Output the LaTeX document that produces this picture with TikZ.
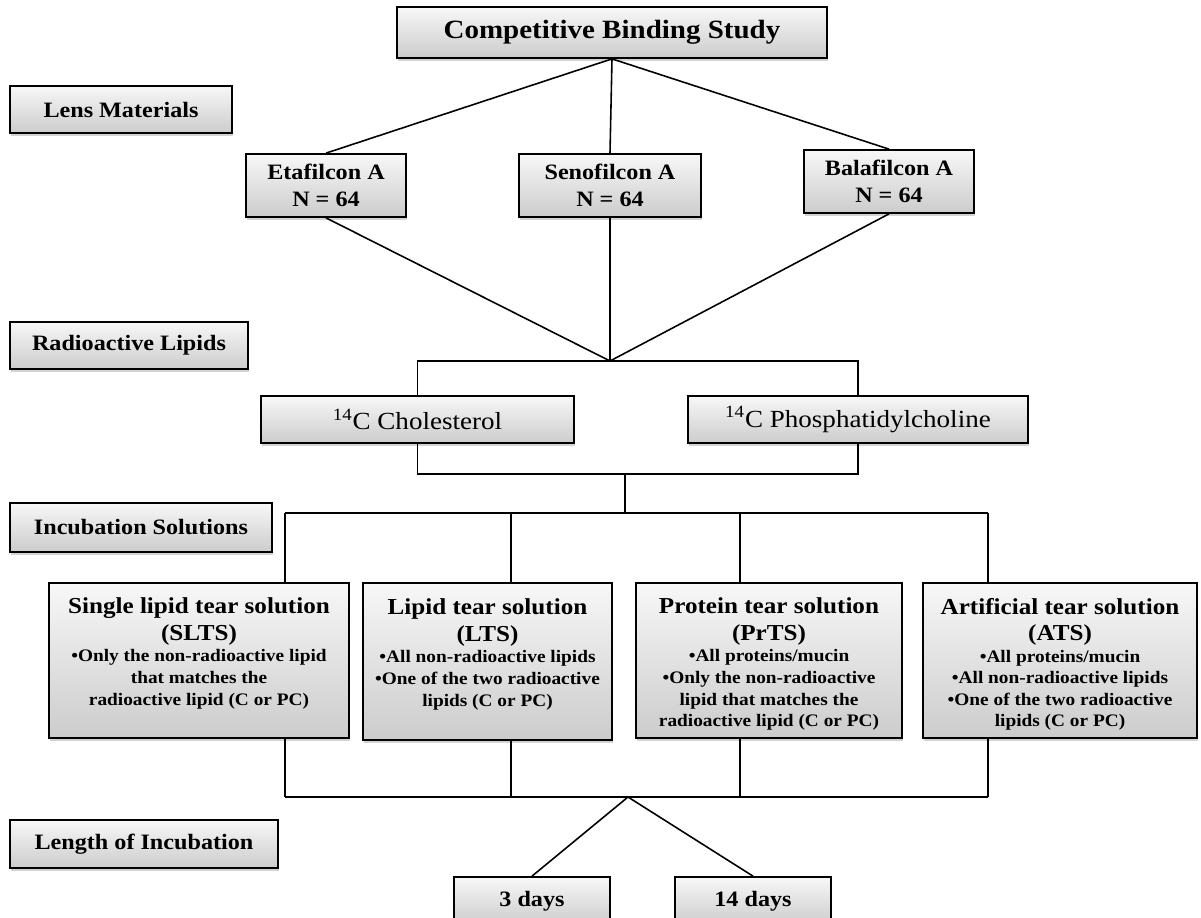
\documentclass[tikz,border=0pt]{standalone}
\usepackage{fontspec}
\setmainfont{Liberation Serif}[FakeStretch=1.1]
\usepackage{tikz}
\usetikzlibrary{positioning, shadows, calc}
\tikzset{
    greybox/.style={rectangle, draw=black, line width=1pt, top color=gray!6, bottom color=gray!40,
        drop shadow={shadow xshift=0.8pt, shadow yshift=-1.6pt, opacity=0.35}, align=center, inner sep=0pt},
    labelbox/.style={greybox, minimum height=0.94cm, font=\bfseries\fontsize{12.5}{15}\selectfont},
    itembox/.style={greybox, minimum height=1.26cm, font=\bfseries\fontsize{12.5}{15}\selectfont},
    lipidbox/.style={greybox, minimum height=0.94cm, font=\fontsize{14}{16}\selectfont},
    solbox/.style={greybox, minimum height=3.1cm, font=\bfseries},
    daybox/.style={greybox, minimum width=3.12cm, minimum height=0.96cm, font=\bfseries\fontsize{12.5}{15}\selectfont},
    link/.style={line width=0.9pt, draw=black}
}
\newcommand{\solbody}[3]{\parbox[t][2.5cm][t]{#1}{\centering{\fontsize{13}{15}\selectfont #2\par}\fontsize{10}{12.3}\selectfont #3}}

\begin{document}
\begin{tikzpicture}[x=0.02cm, y=-0.02cm]
    \useasboundingbox (0,0) rectangle (1201,917);
    \clip (0,0) rectangle (1201,917);

    % Study and lens materials
    \node[greybox, minimum width=8.6cm, minimum height=1.02cm, font=\bfseries\fontsize{15}{17}\selectfont] (study) at (612,32.5) {Competitive Binding Study};
    \node[labelbox, minimum width=4.44cm] (lens) at (121,109.5) {Lens Materials};
    \node[itembox, minimum width=3.2cm] (eta) at (326,185.5) {Etafilcon A\\N = 64};
    \node[itembox, minimum width=3.64cm] (seno) at (610,185.5) {Senofilcon A\\N = 64};
    \node[itembox, minimum width=3.4cm] (bala) at (889,181.5) {Balafilcon A\\N = 64};

    \draw[link] (study.south) -- (eta.north);
    \draw[link] (study.south) -- (seno.north);
    \draw[link] (study.south) -- (bala.north);

    % Radioactive lipids
    \node[labelbox, minimum width=4.76cm] (radio) at (129,345.5) {Radioactive Lipids};
    \node[lipidbox, minimum width=6.26cm] (chol) at (417.5,419.5) {\textsuperscript{14}C Cholesterol};
    \node[lipidbox, minimum width=6.8cm] (pc) at (858,419.5) {\textsuperscript{14}C Phosphatidylcholine};
    \coordinate (meet) at (610,361);

    \draw[link] (eta.south) -- (meet);
    \draw[link] (seno.south) -- (meet);
    \draw[link] (bala.south) -- (meet);
    \draw[link] (chol.north) |- (meet) -| (pc.north);

    % Incubation solutions
    \node[labelbox, minimum width=5.24cm, minimum height=0.98cm] (incub) at (141,527.5) {Incubation Solutions};
    \coordinate (lipidhub) at (625,474);
    \coordinate (solhub) at (625,513);
    \draw[link] (chol.south) |- (lipidhub) -| (pc.south);
    \draw[link] (lipidhub) -- (solhub);

    \node[solbox, minimum width=6cm] (slts) at (199,660.5) {\solbody{6cm}{Single lipid tear solution\\(SLTS)}{\textbullet Only the non-radioactive lipid\\that matches the\\radioactive lipid (C or PC)}};
    \node[solbox, minimum width=4.98cm, minimum height=3.14cm] (lts) at (487.5,661.5) {\solbody{4.98cm}{Lipid tear solution\\(LTS)}{\textbullet All non-radioactive lipids\\\textbullet One of the two radioactive\\lipids (C or PC)}};
    \node[solbox, minimum width=5.32cm] (prts) at (769,660.5) {\solbody{5.32cm}{Protein tear solution\\(PrTS)}{\textbullet All proteins/mucin\\\textbullet Only the non-radioactive\\lipid that matches the\\radioactive lipid (C or PC)}};
    \node[solbox, minimum width=5.48cm] (ats) at (1060,660.5) {\solbody{5.48cm}{Artificial tear solution\\(ATS)}{\textbullet All proteins/mucin\\\textbullet All non-radioactive lipids\\\textbullet One of the two radioactive\\lipids (C or PC)}};

    \coordinate (tapA) at (285,513);
    \coordinate (tapB) at (511,513);
    \coordinate (tapC) at (740,513);
    \coordinate (tapD) at (988,513);
    \coordinate (dropA) at (285,797);
    \coordinate (dropB) at (511,797);
    \coordinate (dropC) at (740,797);
    \coordinate (dropD) at (988,797);
    \draw[link] (tapA) -- (tapD);
    \draw[link] (dropA) -- (dropD);
    \foreach \t/\d/\b in {tapA/dropA/slts, tapB/dropB/lts, tapC/dropC/prts, tapD/dropD/ats}
    {
        \draw[link] (\t) -- (\t |- \b.north);
        \draw[link] (\d |- \b.south) -- (\d);
    }

    % Length of incubation
    \node[labelbox, minimum width=5.36cm, minimum height=0.96cm] (length) at (144,844) {Length of Incubation};
    \node[daybox] (days3) at (532,901) {3 days};
    \node[daybox] (days14) at (753,901) {14 days};
    \coordinate (dayhub) at (628,797);
    \draw[link] (days3.north) -- (dayhub) -- (days14.north);
\end{tikzpicture}
\end{document}
